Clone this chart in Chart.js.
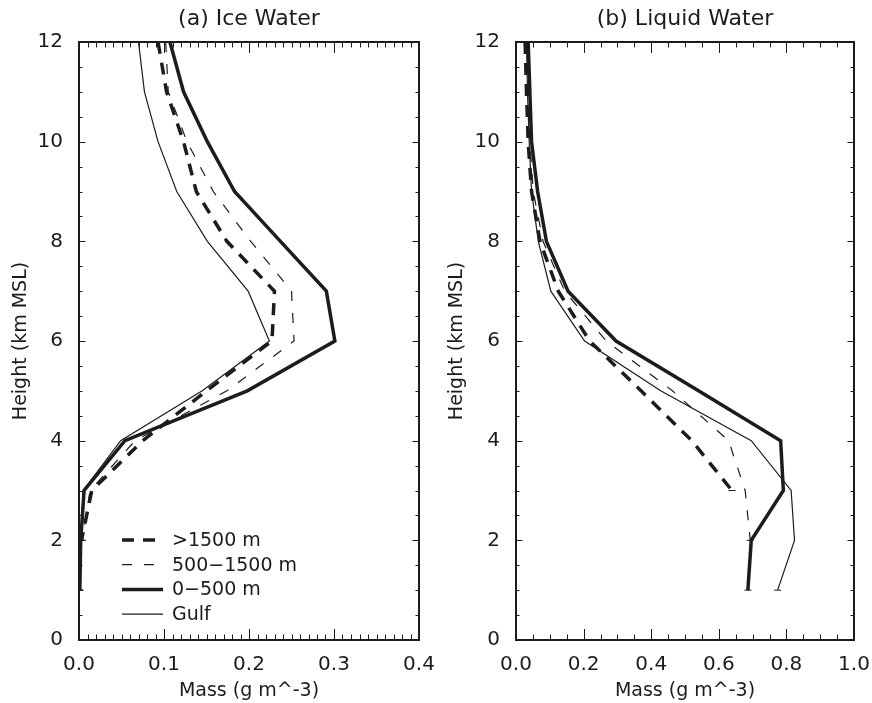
<!DOCTYPE html>
<html>
<head>
<meta charset="utf-8">
<script src="https://cdn.jsdelivr.net/npm/chart.js@4.4.1/dist/chart.umd.min.js"></script>
<style>
  html, body { margin: 0; padding: 0; background: #fff; overflow: hidden; }
  #wrap { position: relative; width: 872px; height: 703px; }
  canvas { position: absolute; top: 0; }
  #ice { left: 0; }
  #liquid { left: 436px; }
</style>
</head>
<body>
<div id="wrap">
  <canvas id="ice" width="436" height="703"></canvas>
  <canvas id="liquid" width="436" height="703"></canvas>
</div>
<script>
// heights (km MSL) shared by every profile
const heights = [12, 11, 10, 9, 8, 7, 6, 5, 4, 3, 2, 1];
const seriesLabels = ['>1500 m', '500\u22121500 m', '0\u2212500 m', 'Gulf'];

// (a) ice water mass, g m^-3
const iceHigh = [0.093, 0.103, 0.123, 0.138, 0.174, 0.230, 0.227, 0.150, 0.075, 0.015, 0.003, null];
const iceMid  = [0.102, 0.105, 0.127, 0.158, 0.202, 0.250, 0.253, 0.174, 0.066, 0.013, 0.004, null];
const iceLow  = [0.107, 0.123, 0.151, 0.183, 0.237, 0.291, 0.301, 0.198, 0.054, 0.006, 0.002, 0.001];
const iceGulf = [0.070, 0.077, 0.093, 0.115, 0.151, 0.199, 0.224, 0.145, 0.049, 0.005, 0.002, 0.001];

// (b) liquid water mass, g m^-3
const liqHigh = [0.027, 0.031, 0.036, 0.046, 0.071, 0.125, 0.218, 0.370, 0.520, 0.639, null, null];
const liqMid  = [0.033, 0.037, 0.041, 0.051, 0.080, 0.144, 0.267, 0.463, 0.629, 0.678, 0.693, null];
const liqLow  = [0.036, 0.041, 0.046, 0.064, 0.090, 0.154, 0.296, 0.540, 0.783, 0.791, 0.696, 0.686];
const liqGulf = [0.031, 0.034, 0.039, 0.046, 0.066, 0.103, 0.203, 0.428, 0.696, 0.814, 0.824, 0.774];

const ink = '#1c1c1c';
const family = '"DejaVu Sans", "Liberation Sans", sans-serif';
const lineStyles = [
  { borderWidth: 3.5, borderDash: [12, 9] },
  { borderWidth: 1.2, borderDash: [10, 12] },
  { borderWidth: 3.5, borderDash: [] },
  { borderWidth: 1.2, borderDash: [] }
];

function toPoints(values) {
  return heights.map((h, i) => ({ x: values[i], y: h })).filter(p => p.x !== null);
}

function makeDatasets(profiles) {
  return profiles.map((values, i) => ({
    label: seriesLabels[i],
    data: toPoints(values),
    showLine: true,
    fill: false,
    tension: 0,
    borderColor: ink,
    borderWidth: lineStyles[i].borderWidth,
    borderDash: lineStyles[i].borderDash,
    pointStyle: 'line',
    pointRadius: ctx => (ctx.dataIndex === ctx.dataset.data.length - 1 ? 3.5 : 0),
    pointHoverRadius: 0,
    pointBorderWidth: 1,
    pointBorderColor: ink
  }));
}

// IDL-style box with inward ticks on all four sides
const frameTicks = {
  id: 'frameTicks',
  afterDraw(chart, args, opts) {
    const { ctx, chartArea: a, scales: { x, y } } = chart;
    ctx.save();
    ctx.strokeStyle = ink;
    ctx.lineWidth = 1;
    ctx.setLineDash([]);
    const seg = (x1, y1, x2, y2) => { ctx.beginPath(); ctx.moveTo(x1, y1); ctx.lineTo(x2, y2); ctx.stroke(); };

    const nx = Math.round((x.max - x.min) / opts.xMinor);
    const perX = Math.round(opts.xMajor / opts.xMinor);
    for (let k = 0; k <= nx; k++) {
      const px = Math.round(x.getPixelForValue(x.min + k * opts.xMinor)) + 0.5;
      const len = k % perX === 0 ? 11 : 5.5;
      seg(px, a.bottom, px, a.bottom - len);
      seg(px, a.top, px, a.top + len);
    }
    const ny = Math.round((y.max - y.min) / opts.yMinor);
    const perY = Math.round(opts.yMajor / opts.yMinor);
    for (let k = 0; k <= ny; k++) {
      const py = Math.round(y.getPixelForValue(y.min + k * opts.yMinor)) + 0.5;
      const len = k % perY === 0 ? 6.5 : 3.5;
      seg(a.left, py, a.left + len, py);
      seg(a.right, py, a.right - len, py);
    }
    ctx.lineWidth = 2;
    ctx.strokeRect(a.left, a.top, a.right - a.left, a.bottom - a.top);
    ctx.restore();
  }
};

// legend drawn inside the plot, samples taken from the datasets themselves
const insideLegend = {
  id: 'insideLegend',
  afterDatasetsDraw(chart, args, opts) {
    if (!opts.display) return;
    const { ctx } = chart;
    ctx.save();
    ctx.font = '19px ' + family;
    ctx.textBaseline = 'middle';
    ctx.fillStyle = ink;
    chart.data.datasets.forEach((ds, i) => {
      const yy = opts.top + i * opts.gap;
      ctx.strokeStyle = ink;
      ctx.lineWidth = ds.borderWidth;
      ctx.setLineDash(ds.borderDash || []);
      ctx.beginPath();
      ctx.moveTo(opts.left, yy);
      ctx.lineTo(opts.left + opts.len, yy);
      ctx.stroke();
      ctx.setLineDash([]);
      ctx.fillText(ds.label, opts.left + opts.len + 9, yy + 1);
    });
    ctx.restore();
  }
};

function makeChart(id, title, profiles, xMax, xStep, xMinor, yWidth, padRight, legend) {
  return new Chart(document.getElementById(id), {
    type: 'scatter',
    data: { datasets: makeDatasets(profiles) },
    plugins: [frameTicks, insideLegend],
    options: {
      responsive: false,
      animation: false,
      devicePixelRatio: 1,
      layout: { padding: { top: 0, right: padRight, bottom: 0, left: 0 } },
      scales: {
        x: {
          type: 'linear', min: 0, max: xMax,
          grid: { display: false }, border: { display: false },
          ticks: {
            stepSize: xStep, padding: 5, color: ink, maxRotation: 0, autoSkip: false,
            font: { family, size: 20 },
            callback: v => Number(v).toFixed(1)
          },
          title: { display: true, text: 'Mass (g m^-3)', color: ink, font: { family, size: 19 }, padding: { top: 0, bottom: 1 } },
          afterFit: s => { s.height = 63; s.paddingLeft = 0; s.paddingRight = 0; }
        },
        y: {
          type: 'linear', min: 0, max: 12,
          grid: { display: false }, border: { display: false },
          ticks: { stepSize: 2, padding: 8, color: ink, font: { family, size: 20 } },
          title: { display: true, text: 'Height (km MSL)', color: ink, font: { family, size: 19 }, padding: { top: 10, bottom: 0 } },
          afterFit: s => { s.width = yWidth; s.paddingTop = 0; s.paddingBottom = 0; }
        }
      },
      plugins: {
        legend: { display: false },
        tooltip: { enabled: false },
        title: {
          display: true, text: title, fullSize: false, color: ink,
          font: { family, size: 22, weight: 'normal' },
          padding: { top: 6, bottom: 9.6 }
        },
        frameTicks: { xMajor: xStep, xMinor: xMinor, yMajor: 2, yMinor: 0.5 },
        insideLegend: legend
      }
    }
  });
}

makeChart('ice', '(a) Ice Water', [iceHigh, iceMid, iceLow, iceGulf], 0.4, 0.1, 0.01, 79, 17,
  { display: true, left: 122, top: 540, gap: 24.7, len: 41 });
makeChart('liquid', '(b) Liquid Water', [liqHigh, liqMid, liqLow, liqGulf], 1.0, 0.2, 0.05, 80, 18,
  { display: false });
</script>
</body>
</html>
